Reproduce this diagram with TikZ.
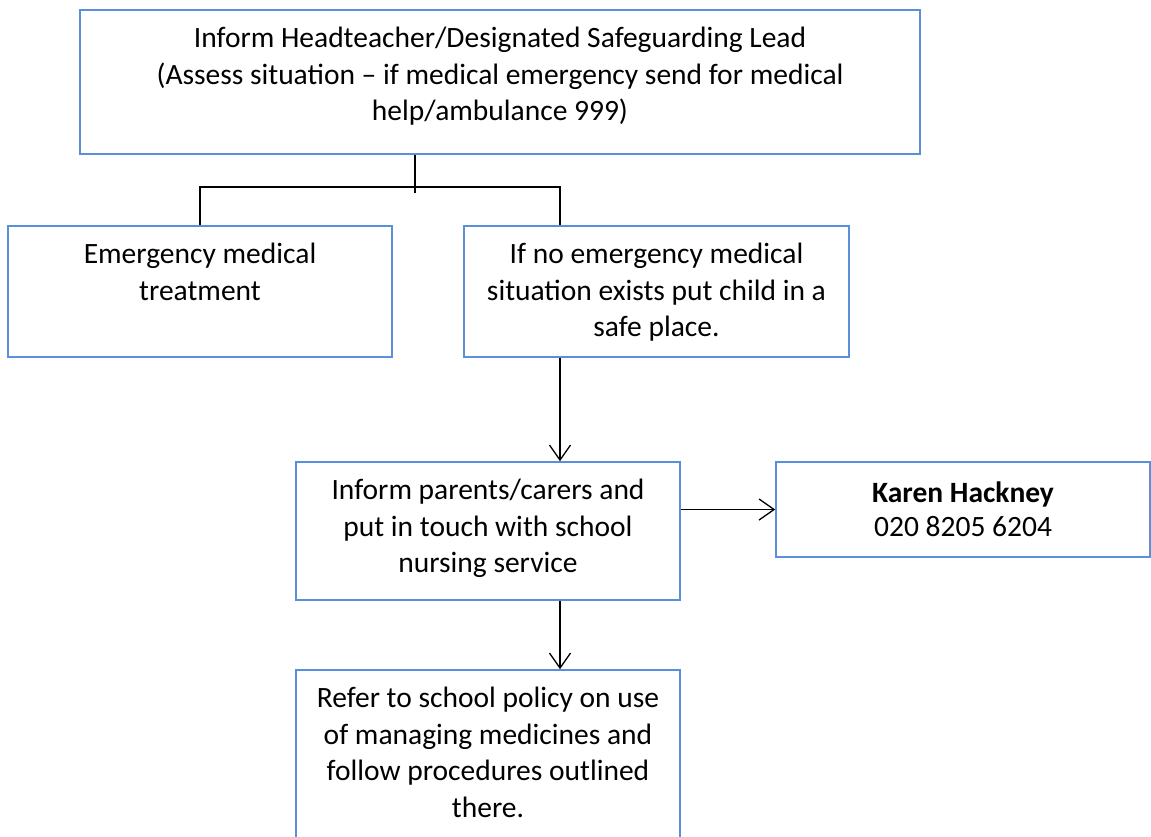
\documentclass[tikz,border=0pt]{standalone}
\usepackage{fontspec}
\setmainfont{Carlito}
\usetikzlibrary{arrows.meta}
\definecolor{boxblue}{HTML}{5B8FD9}
\tikzset{
  box/.style={draw=boxblue, line width=1.6pt, rectangle, inner sep=0pt},
  txt/.style={align=center, inner sep=0pt, font=\fontsize{29.5}{36.5}\selectfont, anchor=north},
  conn/.style={draw=black, line width=1.5pt},
  arr/.style={conn, -{Straight Barb[length=15pt,width=21pt,line width=1.3pt]}}
}
\begin{document}
\begin{tikzpicture}[x=1pt,y=-1pt]
\clip (0,0) rectangle (1151,837);
\fill[white] (0,0) rectangle (1151,837);
% boxes
\node[box, minimum width=840pt, minimum height=144pt] (top) at (500,82) {};
\node[box, minimum width=384pt, minimum height=131pt] (left) at (200,291.5) {};
\node[box, minimum width=385pt, minimum height=131pt] (right) at (656.5,291.5) {};
\node[box, minimum width=384pt, minimum height=138pt] (mid) at (488,531) {};
\node[box, minimum width=374pt, minimum height=95pt] (karen) at (963,509.5) {};
\node[box, minimum width=384pt, minimum height=200pt] (bottom) at (488,770) {};
% texts
\node[txt] (ttop) at ([yshift=-18pt]top.north) {Inform Headteacher/Designated Safeguarding Lead\\(Assess situation – if medical emergency send for medical\\help/ambulance 999)};
\node[txt] (tleft) at ([yshift=-18pt]left.north) {Emergency medical\\treatment};
\node[txt] (tright) at ([yshift=-18pt]right.north) {If no emergency medical\\situation exists put child in a\\safe place.};
\node[txt] (tmid) at ([yshift=-18pt]mid.north) {Inform parents/carers and\\put in touch with school\\nursing service};
\node[txt, font=\fontsize{29.5}{34}\selectfont] (tkaren) at ([yshift=-20pt]karen.north) {\textbf{Karen Hackney}\\020 8205 6204};
\node[txt] (tbottom) at ([yshift=-18pt]bottom.north) {Refer to school policy on use\\of managing medicines and\\follow procedures outlined\\there.};
% connectors
\coordinate (j) at (415,187);
\coordinate (jl) at (200,187);
\coordinate (jr) at (560,187);
\coordinate (jend) at (415,193);
\draw[conn] (top.south -| j) -- (jend);
\draw[conn] (left.north -| jl) -- (jl) -- (jr) -- (right.north -| jr);
\draw[arr] (right.south -| jr) -- (mid.north -| jr);
\draw[arr] (mid.east |- karen.west) -- (karen.west);
\draw[arr] (mid.south -| jr) -- (bottom.north -| jr);
\end{tikzpicture}
\end{document}
